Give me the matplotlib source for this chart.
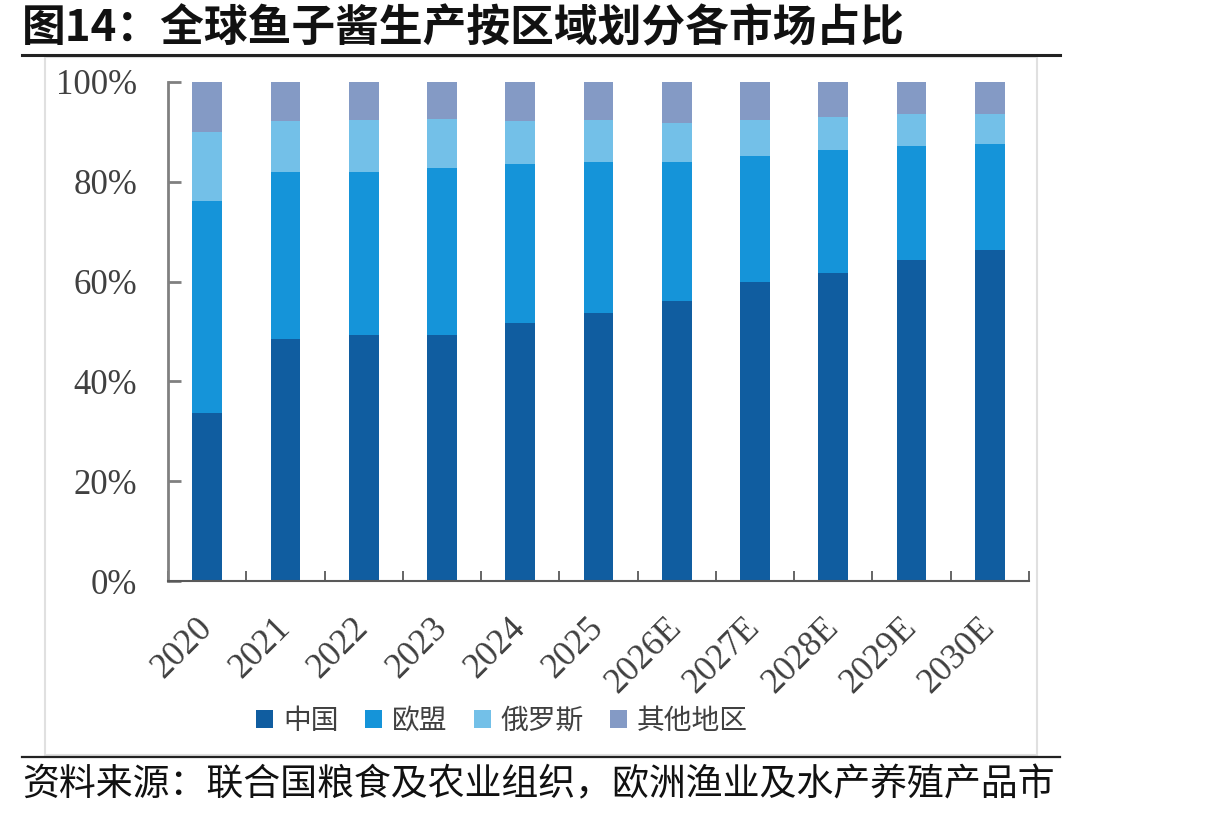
import matplotlib
matplotlib.use("Agg")
import matplotlib.pyplot as plt
from matplotlib.lines import Line2D
from matplotlib.patches import Rectangle
import numpy as np

years = ["2020", "2021", "2022", "2023", "2024", "2025", "2026E", "2027E", "2028E", "2029E", "2030E"]
china = [33.7, 48.5, 49.3, 49.3, 51.7, 53.7, 56.1, 59.9, 61.7, 64.3, 66.3]
eu = [42.5, 33.5, 32.7, 33.5, 31.9, 30.3, 27.9, 25.3, 24.7, 22.9, 21.3]
russia = [13.8, 10.2, 10.4, 9.8, 8.6, 8.4, 7.8, 7.2, 6.6, 6.4, 6.0]
others = [10.0, 7.8, 7.6, 7.4, 7.8, 7.6, 8.2, 7.6, 7.0, 6.4, 6.4]
series_names = ["中国", "欧盟", "俄罗斯", "其他地区"]
yticklabels = ["0%", "20%", "40%", "60%", "80%", "100%"]

colors = ["#105DA0", "#1594D9", "#73C0E8", "#849AC5"]
cjk = ["Noto Sans CJK SC", "DejaVu Sans"]
serif = ["Liberation Serif", "DejaVu Serif"]

W, H = 1215, 816
fig = plt.figure(figsize=(W / 100, H / 100), dpi=100)

def fx(px):
    return px / W

def fy(py):
    return 1 - py / H

ax = fig.add_axes([fx(168), fy(581), fx(1029) - fx(168), fy(82) - fy(581)])

x = np.arange(len(years))
data = [china, eu, russia, others]
bottom = np.zeros(len(years))
handles = []
for vals, c, name in zip(data, colors, series_names):
    v = np.array(vals)
    b = ax.bar(x, v, bottom=bottom, width=0.38, color=c, label=name, zorder=2)
    handles.append(b)
    bottom += v

ax.set_xlim(-0.5, len(years) - 0.5)
ax.set_ylim(0, 100)
ax.set_yticks([0, 20, 40, 60, 80, 100])
ax.set_yticklabels(yticklabels, fontfamily=serif, fontsize=25, color="#404040")
ax.set_xticks(x)
ax.set_xticklabels(years, fontfamily=serif, fontsize=25.5, color="#404040",
                   rotation=45, ha="right", va="center", rotation_mode="anchor")
ax.set_xticks(np.arange(-0.5, len(years) + 0.5, 1.0), minor=True)
ax.tick_params(axis="x", which="major", length=0, pad=30)
ax.tick_params(axis="x", which="minor", direction="in", length=7, width=1.3, color="#595959")
ax.tick_params(axis="y", which="major", direction="in", length=9, width=2, color="#808080", pad=22)
for s in ["top", "right"]:
    ax.spines[s].set_visible(False)
ax.spines["left"].set_color("#808080")
ax.spines["left"].set_linewidth(2)
ax.spines["bottom"].set_color("#595959")
ax.spines["bottom"].set_linewidth(1.5)

leg = fig.legend(handles, series_names, loc="center", bbox_to_anchor=(fx(502), fy(721)),
                 ncol=4, frameon=False, prop={"family": cjk, "size": 20},
                 handlelength=0.62, handleheight=0.62, handletextpad=0.35,
                 columnspacing=0.95)
for t in leg.get_texts():
    t.set_color("#404040")

# frame and rules
fig.add_artist(Rectangle((fx(45), fy(755)), fx(1037) - fx(45), fy(57) - fy(755),
                         fill=False, edgecolor="#E0E0E0", linewidth=1.5,
                         transform=fig.transFigure))
fig.add_artist(Line2D([fx(22), fx(1060)], [fy(55), fy(55)], color="#222222", linewidth=2.2,
                      transform=fig.transFigure))
fig.add_artist(Line2D([fx(22), fx(1060)], [fy(757), fy(757)], color="#222222", linewidth=1.6,
                      transform=fig.transFigure))

fig.text(fx(22), fy(28), "图14：全球鱼子酱生产按区域划分各市场占比", fontfamily=cjk,
         fontsize=31.5, fontweight="bold", color="#111111", ha="left", va="center")
fig.text(fx(22), fy(785), "资料来源：联合国粮食及农业组织，欧洲渔业及水产养殖产品市", fontfamily=cjk,
         fontsize=26.6, color="#111111", ha="left", va="center")

fig.savefig("out.png", dpi=100)
